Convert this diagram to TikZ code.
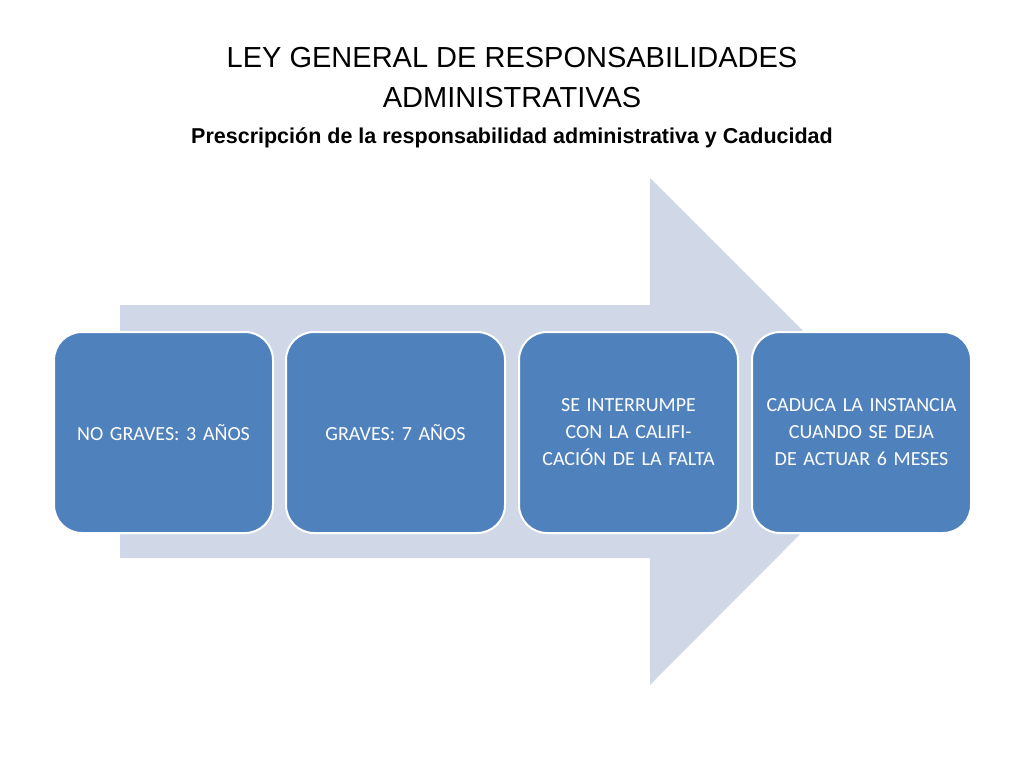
\documentclass[tikz,border=0pt]{standalone}
\usepackage{fontspec}
\setmainfont{Liberation Sans}
\newfontfamily\calfont{Carlito}
\definecolor{boxblue}{HTML}{4F81BD}
\definecolor{arrowbg}{HTML}{D0D8E8}
\begin{document}
\begin{tikzpicture}[x=1pt,y=-1pt,
  stepbox/.style={draw=white,line width=2pt,fill=boxblue,rounded corners=28pt,minimum width=219pt,minimum height=201pt,text width=190pt,align=center,text=white,font=\calfont\fontsize{20}{27}\selectfont,anchor=north west}]
\useasboundingbox (0,0) rectangle (1024,768);
\fill[arrowbg] (120,305) -- (650,305) -- (650,178) -- (903,431) -- (650,685) -- (650,558) -- (120,558) -- cycle;
\node[font=\fontsize{29}{40}\selectfont,align=center] (t) at (512,78) {LEY GENERAL DE RESPONSABILIDADES\\ADMINISTRATIVAS};
\node[font=\bfseries\fontsize{21.5}{26}\selectfont] (s) at (512,138) {Prescripción de la responsabilidad administrativa y Caducidad};
\node[stepbox] (a) at (53,331) {NO GRAVES: 3 AÑOS};
\node[stepbox] (b) at (285,331) {GRAVES: 7 AÑOS};
\node[stepbox] (c) at (518,331) {SE INTERRUMPE CON LA CALIFICACIÓN DE LA FALTA};
\node[stepbox] (d) at (751,331) {CADUCA LA INSTANCIA CUANDO SE DEJA DE ACTUAR 6 MESES};
\end{tikzpicture}
\end{document}
